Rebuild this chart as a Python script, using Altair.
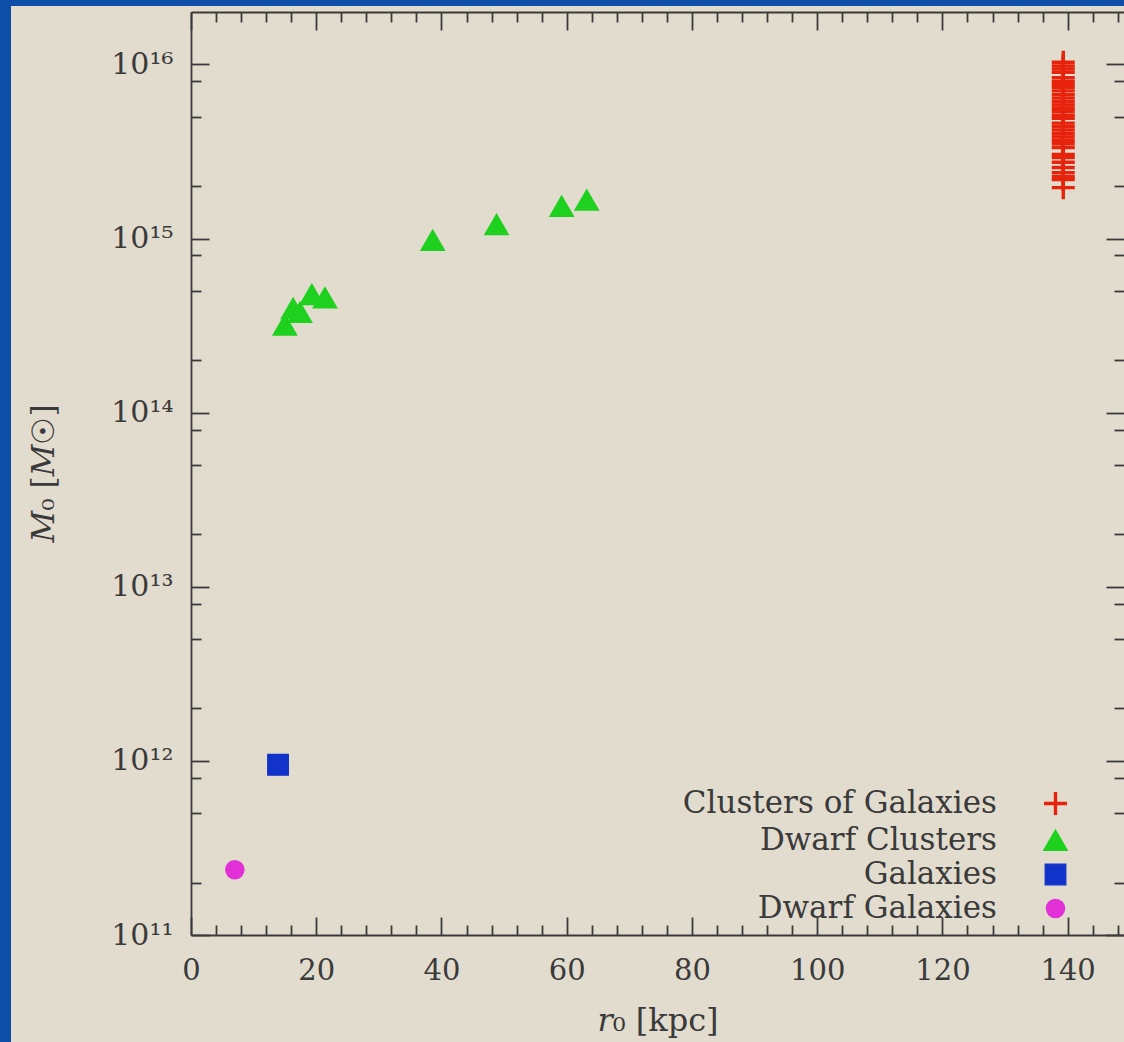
import json

import altair as alt
import pandas as pd

# ---------------------------------------------------------------- data
series_names = ["Clusters of Galaxies", "Dwarf Clusters", "Galaxies", "Dwarf Galaxies"]
series_colors = ["#e8230c", "#1fd11f", "#1233c9", "#e030d6"]
series_shapes = ["M-1,0L1,0M0,-1L0,1", "triangle-up", "square", "circle"]
series_sizes = [529, 380, 484, 484]
series_strokes = [3.4, 0, 0, 0]

# clusters of galaxies all sit at one core radius
cluster_r0 = 139.3
cluster_M0 = [
    1.03e16, 9.8e15, 9.4e15, 9.0e15, 8.4e15, 8.0e15, 7.7e15, 7.4e15,
    7.05e15, 6.7e15, 6.4e15, 6.1e15, 5.85e15, 5.6e15, 5.35e15, 5.1e15,
    4.9e15, 4.6e15, 4.4e15, 4.2e15, 4.0e15, 3.83e15, 3.66e15, 3.5e15,
    3.33e15, 3.04e15, 2.92e15, 2.74e15, 2.56e15, 2.39e15, 2.27e15,
    2.18e15, 1.96e15,
]
dwarf_cluster_r0 = [15.0, 16.3, 17.4, 19.3, 21.4, 38.6, 48.8, 59.2, 63.2]
dwarf_cluster_M0 = [3.18e14, 3.96e14, 3.76e14, 4.76e14, 4.56e14, 9.75e14,
                    1.20e15, 1.53e15, 1.66e15]
galaxy_r0 = [13.9]
galaxy_M0 = [9.5e11]
dwarf_galaxy_r0 = [7.0]
dwarf_galaxy_M0 = [2.37e11]

x_major_ticks = [0, 20, 40, 60, 80, 100, 120, 140]
x_minor_ticks = [4, 8, 12, 16, 24, 28, 32, 36, 44, 48, 52, 56, 64, 68, 72, 76,
                 84, 88, 92, 96, 104, 108, 112, 116, 124, 128, 132, 136, 144, 148]
y_major_ticks = [1e11, 1e12, 1e13, 1e14, 1e15, 1e16]
y_tick_labels = ["10¹¹", "10¹²", "10¹³", "10¹⁴", "10¹⁵", "10¹⁶"]
y_minor_ticks = [2e11, 5e11, 8e11, 2e12, 5e12, 8e12, 2e13, 5e13, 8e13,
                 2e14, 5e14, 8e14, 2e15, 5e15, 8e15]

rows = []
rows += [(cluster_r0, m, series_names[0]) for m in cluster_M0]
rows += [(r, m, series_names[1]) for r, m in zip(dwarf_cluster_r0, dwarf_cluster_M0)]
rows += [(r, m, series_names[2]) for r, m in zip(galaxy_r0, galaxy_M0)]
rows += [(r, m, series_names[3]) for r, m in zip(dwarf_galaxy_r0, dwarf_galaxy_M0)]
df = pd.DataFrame(rows, columns=["r0", "M0", "series"])

# ---------------------------------------------------------------- style
W, H = 933, 923
PAD_LEFT, PAD_TOP = 191, 12
BLUE = "#0d4fa6"
BEIGE = "#e2dccf"
INK = "#3a3a3a"
SERIF = "DejaVu Serif"
MAJOR, MINOR = 18, 10

xs = alt.Scale(domain=[0, 149], nice=False, zero=False)
ys = alt.Scale(type="log", domain=[1e11, 2e16], nice=False)

label_expr = (json.dumps(y_tick_labels, ensure_ascii=False)
              + "[round(log(datum.value) / LN10) - 11]")

x_label_axis = alt.Axis(
    orient="bottom", values=x_major_ticks, ticks=False, tickSize=0, domain=True,
    labelPadding=21, labelFontSize=29, labelFlush=False,
    title="𝑟₀ [kpc]", titleFontSize=32, titleY=95, titleBaseline="alphabetic",
    titleFontWeight="normal",
)
y_label_axis = alt.Axis(
    orient="left", values=y_major_ticks, ticks=False, tickSize=0, domain=True,
    labelExpr=label_expr, labelPadding=18, labelFontSize=30,
    title="𝑀₀ [𝑀☉]", titleFontSize=31, titleAngle=270, titleX=-138, titleY=461,
    titleAlign="center", titleBaseline="alphabetic", titleFontWeight="normal",
)


def tick_axis(orient, values, size):
    """Axis drawing only ticks, pulled inside the frame."""
    return alt.Axis(orient=orient, values=values, tickSize=size, offset=-size,
                    domain=False, labels=False, title=None)


def frame_axis(orient):
    return alt.Axis(orient=orient, values=x_major_ticks, ticks=False, labels=False,
                    domain=True, title=None)


legend = alt.Legend(
    orient="none", legendX=849, legendY=776, title=None, padding=0,
    labelAlign="right", labelOffset={"expr": "-74"}, labelLimit=600,
    labelFont=SERIF, labelFontSize=31, labelColor=INK, rowPadding=2,
)

# slide border strips in the padding around the beige panel
strip = pd.DataFrame({"p": [0]})
left_strip = alt.Chart(strip).mark_rect(color=BLUE).encode(
    x=alt.value(-PAD_LEFT), x2=alt.value(-PAD_LEFT + 11),
    y=alt.value(-PAD_TOP), y2=alt.value(H + 120),
)
top_strip = alt.Chart(strip).mark_rect(color=BLUE).encode(
    x=alt.value(-PAD_LEFT), x2=alt.value(W + 20),
    y=alt.value(-PAD_TOP), y2=alt.value(-PAD_TOP + 6),
)

points = alt.Chart(df).mark_point(filled=True, opacity=1).encode(
    x=alt.X("r0:Q", scale=xs, axis=x_label_axis),
    y=alt.Y("M0:Q", scale=ys, axis=y_label_axis),
    fill=alt.Fill("series:N", scale=alt.Scale(domain=series_names, range=series_colors), legend=legend),
    stroke=alt.Stroke("series:N", scale=alt.Scale(domain=series_names, range=series_colors), legend=legend),
    shape=alt.Shape("series:N", scale=alt.Scale(domain=series_names, range=series_shapes), legend=legend),
    size=alt.Size("series:N", scale=alt.Scale(domain=series_names, range=series_sizes), legend=legend),
    strokeWidth=alt.StrokeWidth("series:N", scale=alt.Scale(domain=series_names, range=series_strokes), legend=legend),
)


def guide_layer(xaxis, yaxis):
    return alt.Chart(df).mark_point(opacity=0).encode(
        x=alt.X("r0:Q", scale=xs, axis=xaxis),
        y=alt.Y("M0:Q", scale=ys, axis=yaxis),
    )


guides = [
    guide_layer(tick_axis("bottom", x_major_ticks, MAJOR), tick_axis("left", y_major_ticks, MAJOR)),
    guide_layer(tick_axis("bottom", x_minor_ticks, MINOR), tick_axis("left", y_minor_ticks, MINOR)),
    guide_layer(frame_axis("top"), tick_axis("right", y_major_ticks, MAJOR)),
    guide_layer(tick_axis("top", x_major_ticks, MAJOR), tick_axis("right", y_minor_ticks, MINOR)),
    guide_layer(tick_axis("top", x_minor_ticks, MINOR), None),
]

chart = (
    alt.layer(left_strip, top_strip, points, *guides)
    .resolve_axis(x="independent", y="independent")
    .properties(
        width=W, height=H, background=BEIGE,
        padding={"left": PAD_LEFT, "top": PAD_TOP, "right": 0, "bottom": 107},
        autosize=alt.AutoSizeParams(type="none"),
    )
    .configure_view(strokeWidth=0)
    .configure_axis(
        grid=False,
        domainColor=INK, domainWidth=1.8, tickColor=INK, tickWidth=1.8,
        labelFont=SERIF, labelColor=INK, titleFont=SERIF, titleColor=INK,
    )
)

chart.save("out.html", embed_options={"renderer": "svg", "actions": False})
